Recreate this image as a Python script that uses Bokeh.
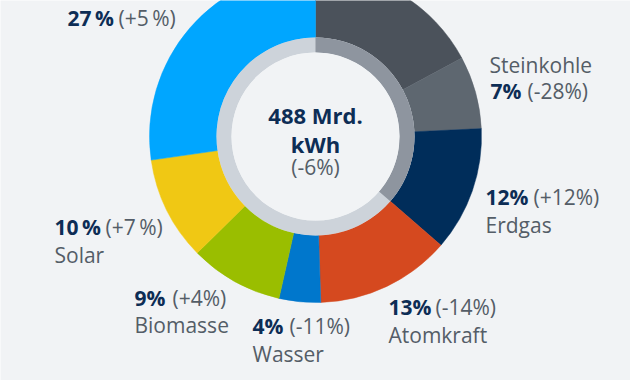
import numpy as np
from bokeh.plotting import figure
from bokeh.models import Range1d
from bokeh.core.properties import value
from bokeh.embed import file_html
from bokeh.resources import INLINE

# ---- data ----
categories = ["Braunkohle", "Steinkohle", "Erdgas", "Atomkraft", "Wasser", "Biomasse", "Solar", "Wind"]
shares = [17, 7, 12, 13, 4, 9, 10, 27]
share_labels = ["17%", "7%", "12%", "13%", "4%", "9%", "10\u2009%", "27\u2009%"]
change_labels = ["", "(-28%)", "(+12%)", "(-14%)", "(-11%)", "(+4%)", "(+7\u2009%)", "(+5\u2009%)"]
fossil = ["Braunkohle", "Steinkohle", "Erdgas"]
total_label = "488 Mrd."
unit_label = "kWh"
total_change = "(-6%)"

# ---- styles ----
colors = ["#4b525b", "#5e6770", "#002d5a", "#d5491f", "#0077cc", "#9abe00", "#f0c814", "#00a6ff"]
BG = "#f1f3f5"
RING_LIGHT = "#cdd3da"
RING_DARK = "#8e959f"
NAVY = "#0d2d55"
GRAY = "#545d67"
FONT = "Open Sans"
TXT_SHIFT = 9  # compensation for text baseline placement

# label layout (page pixel coords): share x, share baseline, change x, name x, name baseline
layout = {
    "Steinkohle": (490, 99, 527, 489, 73),
    "Erdgas": (485, 205, 533, 485, 233),
    "Atomkraft": (388, 315, 435, 388, 343),
    "Wasser": (252, 334, 289, 252, 362),
    "Biomasse": (134, 306, 172, 134, 333),
    "Solar": (54, 235, 105, 54, 263),
    "Wind": (67, 26, 118, 67, -2),
}

W, H = 630, 380
p = figure(width=W, height=H, x_range=Range1d(0, W), y_range=Range1d(0, H),
           output_backend="svg", toolbar_location=None, min_border=0,
           x_axis_type=None, y_axis_type=None)
p.grid.visible = False
p.outline_line_color = None
p.background_fill_color = BG
p.border_fill_color = BG

def py(page_y):
    return H - page_y

def ty(page_y):
    return H - (page_y - TXT_SHIFT)

cx, cy = 315, py(136)
R_OUT, R_MID, R_IN = 166, 99, 84

frac = np.array(shares, dtype=float) / sum(shares)
cum = np.concatenate([[0.0], np.cumsum(frac)])
t0 = cum[:-1] * 2 * np.pi
t1 = cum[1:] * 2 * np.pi
p.annular_wedge(x=cx, y=cy, inner_radius=R_MID, outer_radius=R_OUT,
                start_angle=list(np.pi / 2 - t0), end_angle=list(np.pi / 2 - t1),
                direction="clock", fill_color=colors, line_color=colors, line_width=0.5)

# inner ring
p.annulus(x=cx, y=cy, inner_radius=R_IN, outer_radius=R_MID, fill_color=RING_LIGHT, line_color=None)
fossil_frac = sum(s for c, s in zip(categories, shares) if c in fossil) / sum(shares)
p.annular_wedge(x=cx, y=cy, inner_radius=R_IN, outer_radius=R_MID,
                start_angle=np.pi / 2, end_angle=np.pi / 2 - fossil_frac * 2 * np.pi,
                direction="clock", fill_color=RING_DARK, line_color=None)
p.circle(x=cx, y=cy, radius=R_IN, fill_color=BG, line_color=None)

# center text
p.text(x=[cx], y=[ty(123)], text=[total_label], text_font=value(FONT), text_font_style="bold",
       text_font_size="22px", text_color=NAVY, text_align="center", text_baseline="alphabetic")
p.text(x=[cx], y=[ty(152)], text=[unit_label], text_font=value(FONT), text_font_style="bold",
       text_font_size="22px", text_color=NAVY, text_align="center", text_baseline="alphabetic")
p.text(x=[cx], y=[ty(175)], text=[total_change], text_font=value(FONT),
       text_font_size="21px", text_color=GRAY, text_align="center", text_baseline="alphabetic")

# labels
for cat, sl, cl in zip(categories, share_labels, change_labels):
    if cat not in layout:
        continue
    sx, sb, chx, nx, nb = layout[cat]
    p.text(x=[sx], y=[ty(sb)], text=[sl], text_font=value(FONT), text_font_style="bold",
           text_font_size="21px", text_color=NAVY, text_align="left", text_baseline="alphabetic")
    p.text(x=[chx], y=[ty(sb)], text=[cl], text_font=value(FONT),
           text_font_size="21px", text_color=GRAY, text_align="left", text_baseline="alphabetic")
    if nb > 0:
        p.text(x=[nx], y=[ty(nb)], text=[cat], text_font=value(FONT),
               text_font_size="21px", text_color=GRAY, text_align="left", text_baseline="alphabetic")

open("out.html", "w").write(file_html(p, INLINE))
